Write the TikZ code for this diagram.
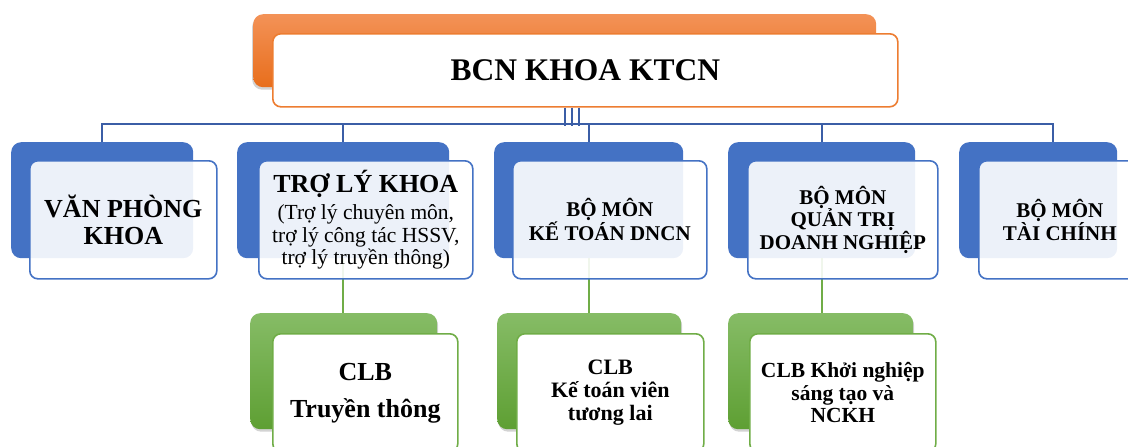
\documentclass[tikz,border=0pt]{standalone}
\usepackage{fontspec}
\setmainfont{Liberation Serif}
\usetikzlibrary{shadows}

\definecolor{orgtop}{HTML}{F39257}
\definecolor{orgbot}{HTML}{E86E1C}
\definecolor{orgline}{HTML}{ED7D31}
\definecolor{bluebox}{HTML}{4472C4}
\definecolor{busblue}{HTML}{3B5EA6}
\definecolor{grntop}{HTML}{86BC66}
\definecolor{grnbot}{HTML}{5E9F33}
\definecolor{grnline}{HTML}{70AD47}

\begin{document}
\begin{tikzpicture}[x=1pt,y=-1pt,
    back/.style={rounded corners=10pt,anchor=north west,inner sep=0pt},
    front/.style={rounded corners=8pt,anchor=north west,inner sep=0pt,line width=1.6pt,align=center},
    hdback/.style={back,top color=orgtop,bottom color=orgbot,drop shadow={opacity=0.35,shadow xshift=-1pt,shadow yshift=-2.5pt}},
    hdfront/.style={front,draw=orgline,fill=white},
    blueback/.style={back,fill=bluebox,minimum height=116pt},
    bluefront/.style={front,draw=bluebox,fill=white,fill opacity=0.9,text opacity=1,minimum height=118pt},
    grnback/.style={back,top color=grntop,bottom color=grnbot,minimum height=116pt,drop shadow={opacity=0.35,shadow xshift=1pt,shadow yshift=-2.5pt}},
    grnfront/.style={front,draw=grnline,fill=white,minimum height=118pt},
    bus/.style={draw=busblue,line width=1.6pt},
    grnlink/.style={draw=grnline,line width=2pt}]

    \clip (0,0) rectangle (1128,447);

    \node[blueback,minimum width=182pt] (b1back) at (11,142) {};
    \node[blueback,minimum width=212pt] (b2back) at (237,142) {};
    \node[blueback,minimum width=189pt] (b3back) at (494,142) {};
    \node[blueback,minimum width=187pt] (b4back) at (728,142) {};
    \node[blueback,minimum width=158pt] (b5back) at (959,142) {};

    \draw[bus] (b1back.north) |- ([xshift=15pt]b5back.north |- 0,124) -- ([xshift=15pt]b5back.north);
    \foreach \b in {b2back,b3back,b4back}
        \draw[bus] (\b.north) -- (\b.north |- 0,124);

    \node[grnback,minimum width=187pt] (g1back) at (250,313) {};
    \node[grnback,minimum width=184pt] (g2back) at (497,313) {};
    \node[grnback,minimum width=185pt] (g3back) at (728,313) {};

    \draw[grnlink] (b2back.south) -- (b2back.south |- g1back.north);
    \draw[grnlink] (b3back.south) -- (b3back.south |- g2back.north);
    \draw[grnlink] (b4back.south) -- (b4back.south |- g3back.north);

    \node[bluefront,minimum width=187pt,font=\bfseries\fontsize{26}{27}\selectfont] (b1) at (29,160) {VĂN PHÒNG\\KHOA};
    \node[bluefront,minimum width=214pt,font=\fontsize{21.5}{22.5}\selectfont] (b2) at (258,160)
        {{\bfseries\fontsize{26}{26}\selectfont TRỢ LÝ KHOA}\\[5pt](Trợ lý chuyên môn,\\trợ lý công tác HSSV,\\trợ lý truyền thông)};
    \node[bluefront,minimum width=194pt,font=\bfseries\fontsize{21}{22.5}\selectfont] (b3) at (512,160) {BỘ MÔN\\KẾ TOÁN DNCN};
    \node[bluefront,minimum width=190pt,font=\bfseries\fontsize{21}{22.5}\selectfont] (b4) at (747,160) {BỘ MÔN\\QUẢN TRỊ\\DOANH NGHIỆP};
    \node[bluefront,minimum width=162pt,font=\bfseries\fontsize{21}{22.5}\selectfont] (b5) at (978,160) {BỘ MÔN\\TÀI CHÍNH};

    \node[grnfront,minimum width=185pt,font=\bfseries\fontsize{26}{37}\selectfont] (g1) at (272,333) {CLB\\Truyền thông};
    \node[grnfront,minimum width=187pt,font=\bfseries\fontsize{22}{23}\selectfont] (g2) at (516,333) {CLB\\Kế toán viên\\tương lai};
    \node[grnfront,minimum width=186pt,font=\bfseries\fontsize{21.5}{22.5}\selectfont] (g3) at (749,333) {CLB Khởi nghiệp\\sáng tạo và\\NCKH};

    \node[hdback,minimum width=623pt,minimum height=73pt] (hdback) at (253,14) {};
    \node[hdfront,minimum width=625pt,minimum height=73pt,font=\bfseries\fontsize{31.5}{33}\selectfont] (hd) at (272,33) {BCN KHOA KTCN};

    \coordinate (stem) at (hdback.south |- hd.south);
    \foreach \dx in {0,7,14}
        \draw[bus] (stem) ++(\dx,0) -- ++(0,18);
\end{tikzpicture}
\end{document}
